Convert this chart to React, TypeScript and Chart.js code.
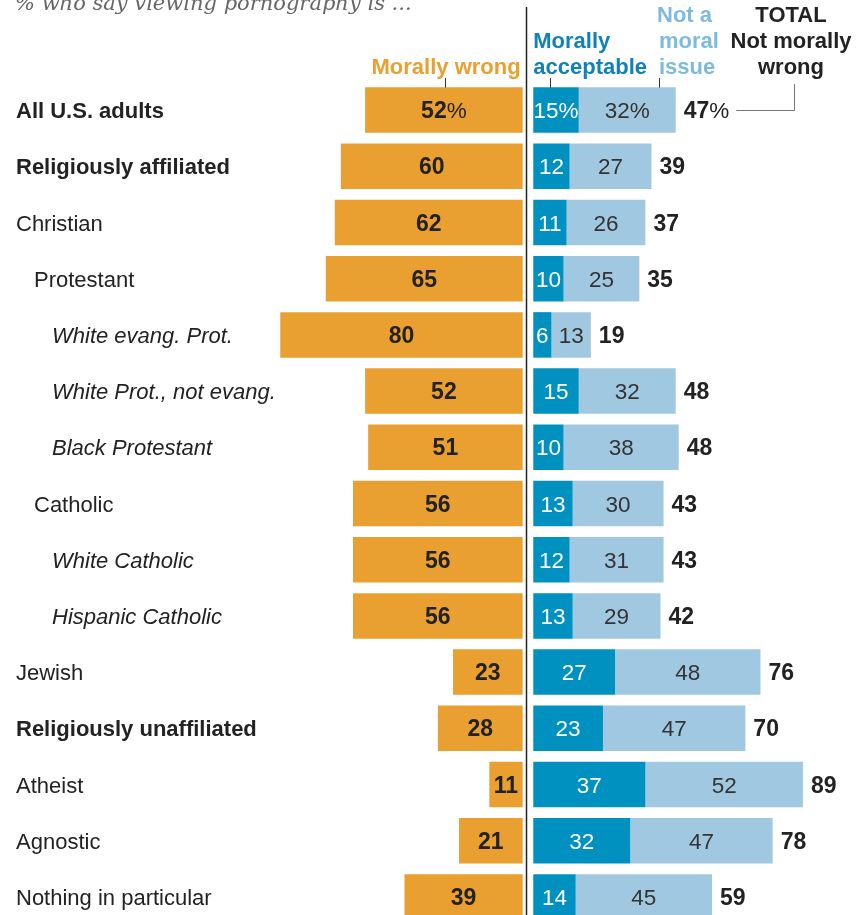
import React, { useEffect, useRef } from "react";
import { Chart, registerables } from "chart.js";
Chart.register(...registerables);

const subtitle = "% who say viewing pornography is ...";
const categories = [
  "All U.S. adults",
  "Religiously affiliated",
  "Christian",
  "Protestant",
  "White evang. Prot.",
  "White Prot., not evang.",
  "Black Protestant",
  "Catholic",
  "White Catholic",
  "Hispanic Catholic",
  "Jewish",
  "Religiously unaffiliated",
  "Atheist",
  "Agnostic",
  "Nothing in particular",
];
const indentLevels = [0, 0, 0, 1, 2, 2, 2, 1, 2, 2, 0, 0, 0, 0, 0];
const boldRows = [true, true, false, false, false, false, false, false, false, false, false, true, false, false, false];
const morallyWrong = [52, 60, 62, 65, 80, 52, 51, 56, 56, 56, 23, 28, 11, 21, 39];
const morallyAcceptable = [15, 12, 11, 10, 6, 15, 10, 13, 12, 13, 27, 23, 37, 32, 14];
const notMoralIssue = [32, 27, 26, 25, 13, 32, 38, 30, 31, 29, 48, 47, 52, 47, 45];
const totalNotWrong = [47, 39, 37, 35, 19, 48, 48, 43, 43, 42, 76, 70, 89, 78, 59];

const ORANGE = "#E9A030";
const BLUE = "#0091C1";
const LIGHT = "#A1C8E1";
const BLUE_TEXT = "#1182B7";
const LIGHT_TEXT = "#7DBADD";
const DARK = "#222222";

const GAP_L = 1.1;
const GAP_R = 2.4;
const PX_PER_UNIT = 3.03;
const DIVIDER_PX = 526;
const W = 860;
const H = 925;

const SANS = '"Liberation Sans", Arial, sans-serif';

function fmt(i: number, v: number) {
  return i === 0 ? `${v}%` : `${v}`;
}

function drawValue(
  ctx: CanvasRenderingContext2D,
  text: string,
  x: number,
  y: number,
  bold: boolean,
  color: string,
  align: "center" | "left"
) {
  const hasPct = text.endsWith("%");
  const num = hasPct ? text.slice(0, -1) : text;
  const fNum = `${bold ? "bold 23px" : "22.5px"} ${SANS}`;
  const fPct = `22.5px ${SANS}`;
  ctx.font = fNum;
  const w1 = ctx.measureText(num).width;
  ctx.font = fPct;
  const w2 = hasPct ? ctx.measureText("%").width : 0;
  const start = align === "center" ? x - (w1 + w2) / 2 : x;
  ctx.textAlign = "left";
  ctx.textBaseline = "alphabetic";
  ctx.fillStyle = color;
  ctx.font = fNum;
  ctx.fillText(num, start, y);
  if (hasPct) {
    ctx.font = fPct;
    ctx.fillText("%", start + w1, y);
  }
  return start + w1 + w2;
}

const overlay = {
  id: "overlay",
  afterDatasetsDraw(chart: any) {
    const ctx: CanvasRenderingContext2D = chart.ctx;
    const xs = chart.scales.x;
    const ys = chart.scales.y;
    ctx.save();

    // subtitle (cut at top)
    ctx.font = 'italic 21px "DejaVu Serif", Georgia, serif';
    ctx.fillStyle = "#666666";
    ctx.textAlign = "left";
    ctx.textBaseline = "alphabetic";
    ctx.fillText(subtitle, 15, 10);

    // divider
    const x0 = Math.round(xs.getPixelForValue(0)) + 0.5;
    ctx.strokeStyle = "#222";
    ctx.lineWidth = 1.5;
    ctx.beginPath();
    ctx.moveTo(x0, 7);
    ctx.lineTo(x0, chart.height);
    ctx.stroke();

    // headers
    const hf = `bold 22px ${SANS}`;
    ctx.font = hf;
    ctx.textBaseline = "alphabetic";
    ctx.fillStyle = ORANGE;
    ctx.textAlign = "right";
    ctx.fillText("Morally wrong", xs.getPixelForValue(-GAP_L) - 2, 74);

    ctx.fillStyle = BLUE_TEXT;
    ctx.textAlign = "left";
    const bx = xs.getPixelForValue(GAP_R);
    ctx.fillText("Morally", bx, 48);
    ctx.fillText("acceptable", bx, 74);

    ctx.fillStyle = LIGHT_TEXT;
    ctx.fillText("Not a", 657, 22);
    ctx.fillText("moral", 659, 48);
    ctx.fillText("issue", 659, 74);

    ctx.fillStyle = DARK;
    ctx.textAlign = "center";
    ctx.fillText("TOTAL", 791, 22);
    ctx.fillText("Not morally", 791, 48);
    ctx.fillText("wrong", 791, 74);

    // tick marks
    const barTop = ys.getPixelForValue(0) - 22.5;
    ctx.strokeStyle = "#333";
    ctx.lineWidth = 1;
    for (const tx of [445.5, 550.5, 659.5]) {
      ctx.beginPath();
      ctx.moveTo(tx, 78);
      ctx.lineTo(tx, barTop);
      ctx.stroke();
    }

    // rows
    categories.forEach((cat, i) => {
      const cy = ys.getPixelForValue(i);
      const base = cy + 8;
      const lvl = indentLevels[i];
      ctx.textAlign = "left";
      ctx.fillStyle = DARK;
      ctx.font = `${lvl === 2 ? "italic " : ""}${boldRows[i] ? "bold " : ""}22px ${SANS}`;
      ctx.fillText(cat, 16 + lvl * 18, base);

      // orange value
      const ox = (xs.getPixelForValue(-GAP_L - morallyWrong[i]) + xs.getPixelForValue(-GAP_L)) / 2;
      drawValue(ctx, fmt(i, morallyWrong[i]), ox, base, true, DARK, "center");

      // acceptable
      const a0 = xs.getPixelForValue(GAP_R);
      const a1 = xs.getPixelForValue(GAP_R + morallyAcceptable[i]);
      drawValue(ctx, fmt(i, morallyAcceptable[i]), (a0 + a1) / 2, base, false, "#ffffff", "center");

      // not a moral issue
      const n1 = xs.getPixelForValue(GAP_R + morallyAcceptable[i] + notMoralIssue[i]);
      drawValue(ctx, fmt(i, notMoralIssue[i]), (a1 + n1) / 2, base, false, "#333333", "center");

      // total
      const end = drawValue(ctx, fmt(i, totalNotWrong[i]), n1 + 8, base, true, DARK, "left");

      if (i === 0) {
        ctx.strokeStyle = "#777";
        ctx.lineWidth = 1;
        ctx.beginPath();
        ctx.moveTo(end + 7, Math.round(cy) + 0.5);
        ctx.lineTo(794.5, Math.round(cy) + 0.5);
        ctx.lineTo(794.5, 84);
        ctx.stroke();
      }
    });

    ctx.restore();
  },
};

export default function App() {
  const ref = useRef<HTMLCanvasElement>(null);
  useEffect(() => {
    if (!ref.current) return;
    const chart = new Chart(ref.current, {
      type: "bar",
      data: {
        labels: categories,
        datasets: [
          {
            label: "Morally wrong",
            data: morallyWrong.map((v) => [-GAP_L - v, -GAP_L]) as any,
            backgroundColor: ORANGE,
          },
          {
            label: "Morally acceptable",
            data: morallyAcceptable.map((v) => [GAP_R, GAP_R + v]) as any,
            backgroundColor: BLUE,
          },
          {
            label: "Not a moral issue",
            data: morallyAcceptable.map((v, i) => [GAP_R + v, GAP_R + v + notMoralIssue[i]]) as any,
            backgroundColor: LIGHT,
          },
        ],
      },
      options: {
        indexAxis: "y",
        responsive: false,
        animation: false,
        devicePixelRatio: 1,
        layout: { padding: { top: 82, bottom: 0, left: 0, right: 0 } },
        datasets: {
          bar: {
            grouped: false,
            barPercentage: 0.81,
            categoryPercentage: 1,
            borderWidth: 0,
            borderSkipped: false,
          },
        },
        scales: {
          x: {
            type: "linear",
            display: false,
            min: -DIVIDER_PX / PX_PER_UNIT,
            max: (W - DIVIDER_PX) / PX_PER_UNIT,
          },
          y: { display: false, offset: true },
        },
        plugins: { legend: { display: false }, tooltip: { enabled: false }, title: { display: false } },
      } as any,
      plugins: [overlay],
    });
    return () => chart.destroy();
  }, []);
  return (
    <div style={{ position: "absolute", left: 0, top: 0, width: W, height: 915, overflow: "hidden", background: "#fff" }}>
      <canvas ref={ref} width={W} height={H} style={{ display: "block", width: W, height: H }} />
    </div>
  );
}
